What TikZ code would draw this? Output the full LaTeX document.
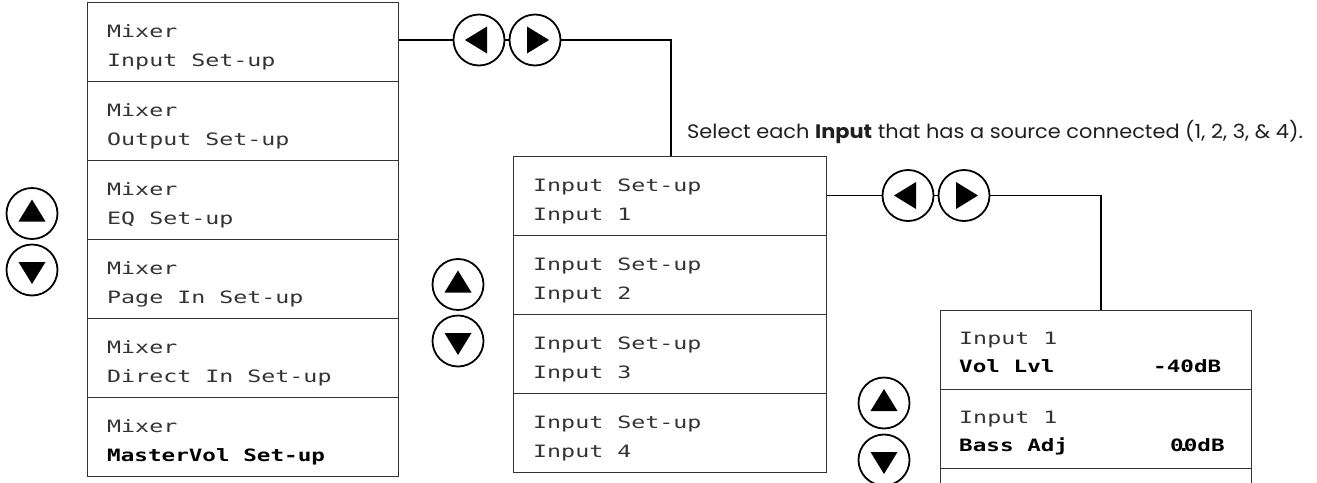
\documentclass[tikz,border=0pt]{standalone}
\usepackage{fontspec}
\setmainfont{Poppins}
\newfontfamily\notefont[FakeStretch=1.072]{Poppins}
\newfontfamily\lcdfont[FakeStretch=1.37]{DejaVu Sans Mono}
\newfontfamily\lcdboldfont[FakeStretch=1.33]{DejaVu Sans Mono Bold}
\begin{document}
\begin{tikzpicture}[x=1pt,y=-1pt,
  lcdrow/.style={draw=black!80,line width=1.2pt,rectangle,inner sep=0pt,minimum width=311pt,minimum height=79pt,anchor=north west},
  lcdtxt/.style={inner sep=0pt,anchor=base west,font=\lcdfont\fontsize{17}{17}\selectfont,text=black!80},
  lcdbold/.style={inner sep=0pt,anchor=base west,font=\lcdboldfont\fontsize{17}{17}\selectfont,text=black},
  btn/.style={draw=black,line width=1.8pt,circle,minimum size=51pt,inner sep=0pt},
  conn/.style={line width=1.8pt,black},
  note/.style={inner sep=0pt,anchor=base west,font=\notefont\fontsize{19.5}{20}\selectfont,text=black!88}
]
\useasboundingbox (0,0) rectangle (1317,482);

% ---------- left column ----------
\foreach \i/\a/\b/\st in {1/Mixer/Input Set-up/lcdtxt,2/Mixer/Output Set-up/lcdtxt,3/Mixer/EQ Set-up/lcdtxt,4/Mixer/Page In Set-up/lcdtxt,5/Mixer/Direct In Set-up/lcdtxt,6/Mixer/MasterVol Set-up/lcdbold}{
  \node[lcdrow] (m\i) at (87,{2+79*(\i-1)}) {};
  \node[lcdtxt] (m\i a) at ([shift={(20,35)}]m\i.north west) {\a};
  \node[\st] (m\i b) at ([shift={(20,64)}]m\i.north west) {\b};
}

% ---------- middle column ----------
\foreach \i in {1,2,3,4}{
  \node[lcdrow,minimum width=313pt] (i\i) at (513,{156+79*(\i-1)}) {};
  \node[lcdtxt] (i\i a) at ([shift={(20,35)}]i\i.north west) {Input Set-up};
  \node[lcdtxt] (i\i b) at ([shift={(20,64)}]i\i.north west) {Input \i};
}

% ---------- right column ----------
\node[lcdrow] (v1) at (940,310) {};
\node[lcdrow] (v2) at (940,389) {};
\node[lcdrow,minimum height=60pt] (v3) at (940,468) {};
\node[lcdtxt] (v1a) at ([shift={(19,34)}]v1.north west) {Input 1};
\node[lcdbold] (v1b) at ([shift={(19,62)}]v1.north west) {Vol Lvl};
\node[lcdbold] (v1c) at (1153,372) {-40dB};
\node[lcdtxt] (v2a) at ([shift={(19,34)}]v2.north west) {Input 1};
\node[lcdbold] (v2b) at ([shift={(19,62)}]v2.north west) {Bass Adj};
\node[lcdbold] (v2c) at (1170,451) {0\makebox[0pt]{.}0dB};

% ---------- up/down buttons ----------
\foreach \n/\x/\y in {u1/32/213.5,d1/32/270,u2/458/284.5,d2/458/341,u3/884/403,d3/884/460}{
  \node[btn] (\n) at (\x,\y) {};
}
\foreach \n in {u1,u2,u3}{
  \fill ([shift={(-13.5,8)}]\n.center) -- ([shift={(13.5,8)}]\n.center) -- ([shift={(0,-14)}]\n.center) -- cycle;
}
\foreach \n in {d1,d2,d3}{
  \fill ([shift={(-13.5,-8)}]\n.center) -- ([shift={(13.5,-8)}]\n.center) -- ([shift={(0,14)}]\n.center) -- cycle;
}

% ---------- left/right buttons ----------
\node[btn] (L1) at (479,40) {};
\node[btn] (R1) at (535,40) {};
\node[btn] (L2) at (908,195.5) {};
\node[btn] (R2) at (964,195.5) {};
\foreach \n in {L1,L2}{
  \fill ([shift={(-14,0)}]\n.center) -- ([shift={(8,-13.5)}]\n.center) -- ([shift={(8,13.5)}]\n.center) -- cycle;
}
\foreach \n in {R1,R2}{
  \fill ([shift={(14,0)}]\n.center) -- ([shift={(-8,-13.5)}]\n.center) -- ([shift={(-8,13.5)}]\n.center) -- cycle;
}

% ---------- connectors ----------
\coordinate (c1) at (671,156);
\coordinate (c2) at (1101,310);
\draw[conn] (m1.east |- L1) -- (L1.west);
\draw[conn] (L1.east) -- (R1.west);
\draw[conn] (R1.east) -| (c1);
\draw[conn] (i1.east |- L2) -- (L2.west);
\draw[conn] (L2.east) -- (R2.west);
\draw[conn] (R2.east) -| (c2);

% ---------- note ----------
\node[note] (txt) at (687,138.5) {Select each \textbf{Input} that has a source connected (1, 2, 3, \& 4).};
\end{tikzpicture}
\end{document}
